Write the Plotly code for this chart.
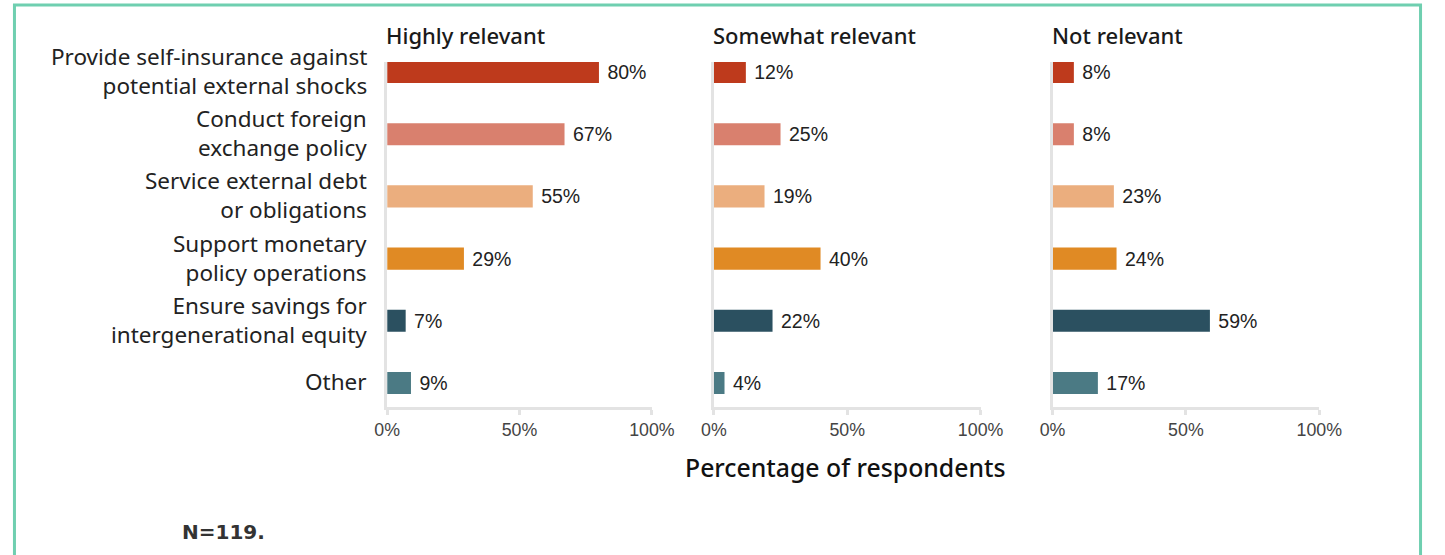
import plotly.graph_objects as go

categories = [
    "Provide self-insurance against<br>potential external shocks",
    "Conduct foreign<br>exchange policy",
    "Service external debt<br>or obligations",
    "Support monetary<br>policy operations",
    "Ensure savings for<br>intergenerational equity",
    "Other",
]
panels = ["Highly relevant", "Somewhat relevant", "Not relevant"]
highly = [80, 67, 55, 29, 7, 9]
somewhat = [12, 25, 19, 40, 22, 4]
not_rel = [8, 8, 23, 24, 59, 17]
series = [highly, somewhat, not_rel]
bar_colors = ["#BE3A1C", "#D9806E", "#EBAE7E", "#E08A24", "#2B5060", "#4B7A84"]
tick_vals = [0, 50, 100]
tick_text = ["0%", "50%", "100%"]

W, H = 1445, 555
# horizontal mapping of target picture pixels to page pixels (photo appears slightly squeezed in x)
SX, OX = 0.976, 10.5
def px_x(p):
    return min(max((p - OX) / SX, 1.5), W - 1.5) / W
def px_y(p):
    return 1 - min(max(p, 1.5), H) / H

x_domains = [(385, 650), (712, 979), (1051, 1318)]
y_dom = [px_y(407), px_y(62)]
rows = list(range(len(categories)))

fig = go.Figure()
for i, vals in enumerate(series):
    sfx = "" if i == 0 else str(i + 1)
    fig.add_trace(go.Bar(
        x=vals, y=rows, orientation="h",
        marker=dict(color=bar_colors, line=dict(width=0)),
        width=0.355,
        text=[f"\u00a0{v}%" for v in vals],
        textposition="outside",
        textfont=dict(family="Liberation Sans, Arial", size=19.5, color="#222222"),
        cliponaxis=False,
        xaxis="x" + sfx, yaxis="y" + sfx,
        hoverinfo="skip", showlegend=False,
    ))
    xa = dict(
        domain=[px_x(x_domains[i][0]), px_x(x_domains[i][1])],
        range=[0, 100], anchor="y" + sfx,
        tickvals=tick_vals, ticktext=tick_text,
        tickfont=dict(family="Liberation Sans, Arial", size=17.8, color="#444444"),
        showline=True, linecolor="#E3E3E3", linewidth=3,
        ticks="outside", ticklen=5, tickwidth=3, tickcolor="#E3E3E3",
        showgrid=False, zeroline=False, fixedrange=True,
    )
    ya = dict(
        domain=y_dom, range=[5.386, -0.161], anchor="x" + sfx,
        tickvals=rows, showticklabels=False,
        showline=True, linecolor="#E3E3E3", linewidth=3,
        showgrid=False, zeroline=False, ticks="", fixedrange=True,
    )
    fig.update_layout(**{"xaxis" + sfx: xa, "yaxis" + sfx: ya})
    fig.add_annotation(
        x=px_x(x_domains[i][0]), y=px_y(35), xref="paper", yref="paper",
        text=panels[i], showarrow=False, xanchor="left", yanchor="middle",
        xshift=-3,
        font=dict(family="Noto Sans", size=22, color="#1a1a1a", weight=500),
    )

# category labels placed on the shared row scale
for r, cat in enumerate(categories):
    fig.add_annotation(
        x=px_x(367), y=r, xref="paper", yref="y",
        text=cat, showarrow=False, xanchor="right", yanchor="middle",
        align="right", yshift=1,
        font=dict(family="Noto Sans", size=22.5, color="#222222"),
    )

fig.add_annotation(
    x=px_x(844), y=px_y(467), xref="paper", yref="paper",
    text="Percentage of respondents", showarrow=False,
    xanchor="center", yanchor="middle",
    font=dict(family="Noto Sans", size=24.8, color="#111111", weight=500),
)
fig.add_annotation(
    x=px_x(182), y=px_y(532), xref="paper", yref="paper",
    text="N=119.", showarrow=False, xanchor="left", yanchor="middle",
    xshift=-4,
    font=dict(family="DejaVu Sans", size=20, color="#333333", weight="bold"),
)
bx0, bx1, by = px_x(2), px_x(1442), px_y(5)
fig.add_shape(
    type="path", xref="paper", yref="paper",
    path=f"M {bx0},0 L {bx0},{by} L {bx1},{by} L {bx1},0",
    line=dict(color="#6FCFB0", width=3),
)

fig.update_layout(
    width=W, height=H, margin=dict(l=0, r=0, t=0, b=0),
    paper_bgcolor="white", plot_bgcolor="white",
)
fig.write_html(
    "out.html",
    config={"displayModeBar": False},
    post_script="document.documentElement.style.margin='0';"
                "document.documentElement.style.overflow='hidden';"
                "document.body.style.margin='0';"
                "document.body.style.overflow='hidden';",
)
